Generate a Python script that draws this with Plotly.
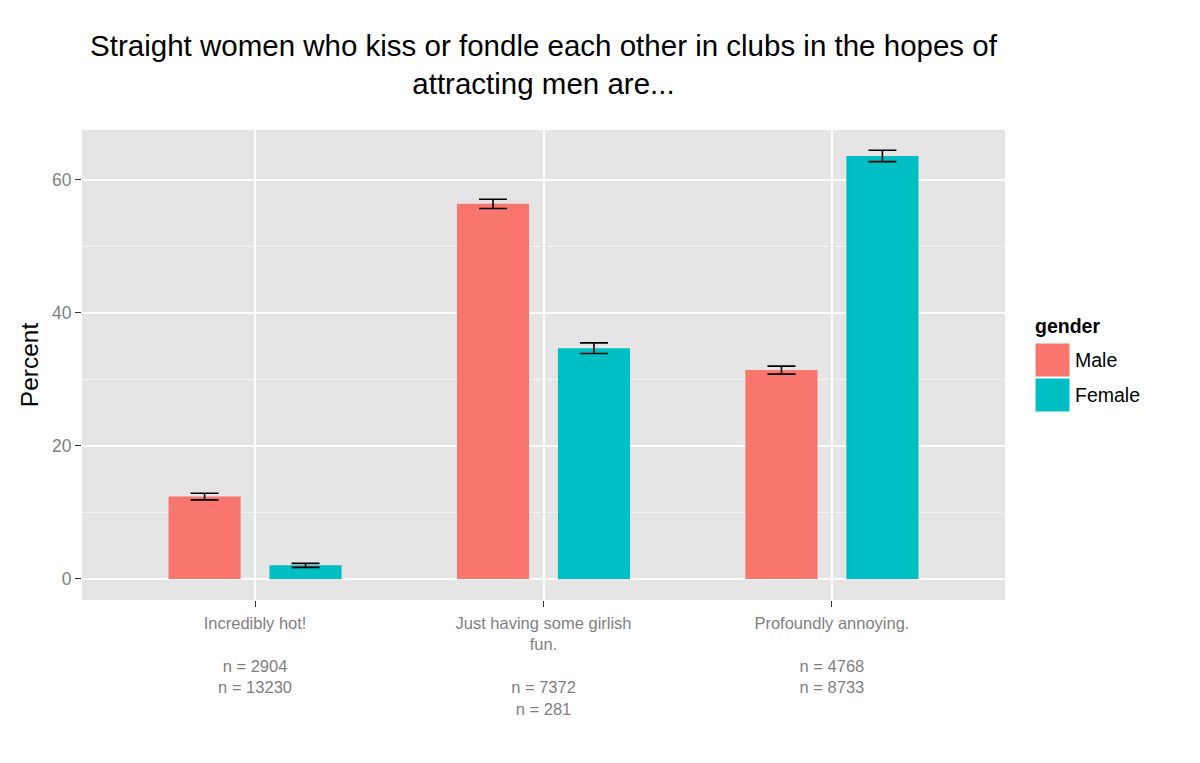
import plotly.graph_objects as go

# ---- data ----
categories = ["Incredibly hot!", "Just having some girlish fun.", "Profoundly annoying."]
tick_labels = [
    "Incredibly hot!<br><br>n = 2904<br>n = 13230",
    "Just having some girlish<br>fun.<br><br>n = 7372<br>n = 281",
    "Profoundly annoying.<br><br>n = 4768<br>n = 8733",
]
male_pct = [12.4, 56.4, 31.4]
male_err = [0.5, 0.7, 0.6]
female_pct = [2.05, 34.7, 63.6]
female_err = [0.3, 0.8, 0.85]
series_names = ["Male", "Female"]
series_colors = ["#F8766D", "#00BFC4"]

# page body has an 8px margin; size the figure so the plot area lands where the reference has it
OFF = 8
W, H = 1192, 755
L, R, T, B = 74, 195, 122, 163
pw, ph = W - L - R, H - T - B

def px_x(px):
    return (px - OFF - L) / pw

def px_y(py):
    return (H - B - (py - OFF)) / ph

fig = go.Figure()
for name, vals, errs, col in zip(series_names, [male_pct, female_pct], [male_err, female_err], series_colors):
    fig.add_trace(go.Bar(
        x=categories, y=vals, name=name, marker_color=col, marker_line_width=0,
        error_y=dict(type="data", array=errs, color="black", thickness=1.6, width=14),
        showlegend=False,
    ))

FONT = "Liberation Sans, Arial, sans-serif"
fig.update_layout(
    width=W, height=H,
    margin=dict(l=L, r=R, t=T, b=B),
    paper_bgcolor="white", plot_bgcolor="#E5E5E5",
    barmode="group", bargap=0.3, bargroupgap=0.2857,
    font=dict(family=FONT),
    title=dict(
        text="Straight women who kiss or fondle each other in clubs in the hopes of<br>attracting men are...",
        x=0.5, xref="paper", xanchor="center",
        y=1 - (56 - OFF) / H, yref="container", yanchor="middle",
        font=dict(size=29.5, color="black", family=FONT),
    ),
    xaxis=dict(
        tickmode="array", tickvals=categories, ticktext=tick_labels,
        range=[-0.6, 2.6], showgrid=True, gridcolor="white", gridwidth=1.6,
        ticks="outside", ticklen=6, tickcolor="#333333", tickwidth=1,
        ticklabelstandoff=2,
        tickfont=dict(size=16.5, color="#7F7F7F"), zeroline=False, showline=False,
    ),
    yaxis=dict(
        range=[-3.16, 67.5], tickvals=[0, 20, 40, 60], showgrid=True,
        gridcolor="white", gridwidth=1.6,
        minor=dict(tickvals=[10, 30, 50], showgrid=True, gridcolor="#F2F2F2", gridwidth=0.8, ticks=""),
        ticks="outside", ticklen=6, tickcolor="#333333", tickwidth=1,
        tickfont=dict(size=17.5, color="#7F7F7F"), zeroline=False, showline=False,
        title=dict(text="Percent", font=dict(size=24.5, color="black"), standoff=6),
    ),
)

# manual legend (ggplot style)
fig.add_annotation(text="<b>gender</b>", x=px_x(1033), y=px_y(326), xref="paper", yref="paper",
                   xanchor="left", yanchor="middle", showarrow=False, font=dict(size=19.5, color="black"))
key_tops = [343, 378]
for name, col, top in zip(series_names, series_colors, key_tops):
    fig.add_shape(type="rect", xref="paper", yref="paper",
                  x0=px_x(1035), x1=px_x(1070), y0=px_y(top + 34), y1=px_y(top),
                  fillcolor=col, line=dict(color="white", width=1))
    fig.add_annotation(text=name, x=px_x(1073), y=px_y(top + 17), xref="paper", yref="paper",
                       xanchor="left", yanchor="middle", showarrow=False, font=dict(size=19.5, color="black"))

fig.write_html("out.html")
